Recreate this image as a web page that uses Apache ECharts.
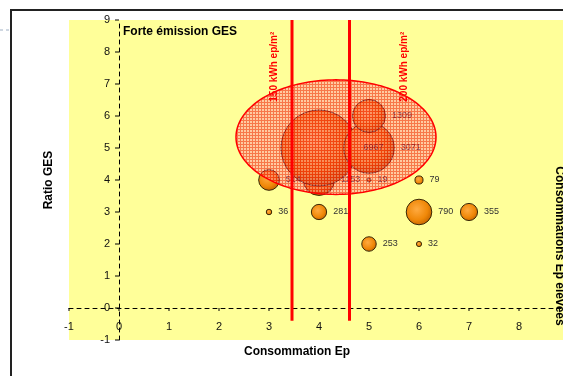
<!DOCTYPE html>
<html>
<head>
<meta charset="utf-8">
<script src="https://cdn.jsdelivr.net/npm/echarts@6/dist/echarts.min.js"></script>
<style>
  html, body { margin: 0; padding: 0; background: #ffffff; }
  #chart { width: 563px; height: 376px; }
</style>
</head>
<body>
<div id="chart"></div>
<script>
// Bubbles: consumption class (x), GES ratio (y), number of buildings (size + label)
const bubbleX = [4, 4, 5, 5, 3, 5, 6, 3, 4, 6, 7, 5, 6];
const bubbleY = [4, 5, 5, 6, 4, 4, 4, 3, 3, 3, 3, 2, 2];
const bubbleCount = [1153, 6967, 3071, 1309, 514, 19, 79, 36, 281, 790, 355, 253, 32];

// Vertical threshold lines and their captions
const thresholdX = [3.46, 4.61];
const thresholdFrom = -0.4;
const thresholdTo = 9;
const thresholdLabels = ['150 kWh ep/m²', '200 kWh ep/m²'];
const thresholdLabelX = [3.1, 5.7];
const thresholdLabelY = 7.54;

// Highlighted zone: centre x, centre y, half-width, half-height
const zoneCentre = [4.34, 5.34];
const zoneRadius = [2.0, 1.79];

// Axis ranges and tick labels (axes cross at zero)
const xRange = [-1, 9];
const yRange = [-1, 9];
const tickStep = 1;
const xTickLabels = [-1, 0, 1, 2, 3, 4, 5, 6, 7, 8, 9];
const yTickLabels = [-1, 0, 1, 2, 3, 4, 5, 6, 7, 8, 9];

const FONT = '"Liberation Sans", Arial, sans-serif';

// Small red cross-hatch used to fill the zone
function makeHatch() {
  const c = document.createElement('canvas');
  c.width = 3; c.height = 3;
  const g = c.getContext('2d');
  g.fillStyle = 'rgba(255,140,170,0.45)';
  g.fillRect(0, 0, 3, 3);
  g.clearRect(0, 0, 3, 1);
  g.clearRect(0, 1, 1, 2);
  g.fillStyle = 'rgba(240,10,10,0.55)';
  g.fillRect(0, 0, 3, 1);
  g.fillRect(0, 1, 1, 2);
  return c;
}
const hatch = makeHatch();

const bubbleData = bubbleX.map((x, i) => [x, bubbleY[i], bubbleCount[i]]);

// Tick marks + labels drawn along the zero-crossing axis lines
const tickData = []
  .concat(xTickLabels.map(v => [v, 0, 0]))
  .concat(yTickLabels.map(v => [0, v, 1]));

const chart = echarts.init(document.getElementById('chart'), null, { renderer: 'canvas' });

chart.setOption({
  animation: false,
  backgroundColor: '#ffffff',
  grid: {
    left: 69, top: 20, width: 500, height: 320,
    show: true, backgroundColor: '#ffff99', borderWidth: 0,
    containLabel: false, outerBoundsMode: 'none'
  },
  xAxis: {
    type: 'value', min: xRange[0], max: xRange[1], interval: tickStep,
    axisLine: { show: true, onZero: true, lineStyle: { color: '#000', width: 1, type: [4, 4] } },
    axisTick: { show: false },
    axisLabel: { show: false },
    splitLine: { show: false }
  },
  yAxis: {
    type: 'value', min: yRange[0], max: yRange[1], interval: tickStep,
    axisLine: { show: true, onZero: true, lineStyle: { color: '#000', width: 1, type: [4, 4] } },
    axisTick: { show: false },
    axisLabel: { show: false },
    splitLine: { show: false }
  },
  graphic: [
    { type: 'rect', z: 10, silent: true,
      shape: { x: 11, y: 10, width: 620, height: 420 },
      style: { fill: null, stroke: '#222', lineWidth: 2 } },
    { type: 'line', z: 10, silent: true,
      shape: { x1: 0, y1: 30, x2: 10, y2: 30 },
      style: { stroke: '#9fb0c4', lineWidth: 1, lineDash: [3, 3] } },
    { type: 'text', z: 10, silent: true, x: 123, y: 32,
      style: { text: 'Forte émission GES', font: 'bold 12px ' + FONT, fill: '#000',
               align: 'left', verticalAlign: 'middle' } },
    { type: 'text', z: 10, silent: true, x: 49, y: 180, rotation: Math.PI / 2,
      style: { text: 'Ratio GES', font: 'bold 12px ' + FONT, fill: '#000',
               align: 'center', verticalAlign: 'middle' } },
    { type: 'text', z: 10, silent: true, x: 297, y: 352,
      style: { text: 'Consommation Ep', font: 'bold 12px ' + FONT, fill: '#000',
               align: 'center', verticalAlign: 'middle' } },
    { type: 'text', z: 10, silent: true, x: 559, y: 246, rotation: -Math.PI / 2,
      style: { text: 'Consommations Ep élevées', font: 'bold 12px ' + FONT, fill: '#000',
               align: 'center', verticalAlign: 'middle' } }
  ],
  series: [
    {
      // axis ticks and tick labels
      type: 'custom', z: 1, silent: true,
      data: tickData,
      renderItem: (params, api) => {
        const p = api.coord([api.value(0), api.value(1)]);
        const vertical = api.value(2) === 1;
        const val = vertical ? api.value(1) : api.value(0);
        if (vertical) {
          return { type: 'group', children: [
            { type: 'line', shape: { x1: p[0] - 4, y1: p[1], x2: p[0], y2: p[1] },
              style: { stroke: '#000', lineWidth: 1 } },
            { type: 'text', x: p[0] - 9, y: p[1],
              style: { text: String(val), font: '11px ' + FONT, fill: '#111',
                       align: 'right', verticalAlign: 'middle' } }
          ] };
        }
        return { type: 'group', children: [
          { type: 'line', shape: { x1: p[0], y1: p[1], x2: p[0], y2: p[1] + 3 },
            style: { stroke: '#000', lineWidth: 1 } },
          { type: 'text', x: p[0], y: p[1] + 19,
            style: { text: String(val), font: '11px ' + FONT, fill: '#111',
                     align: 'center', verticalAlign: 'middle' } }
        ] };
      }
    },
    {
      type: 'scatter', z: 2, silent: true,
      data: bubbleData,
      symbol: 'circle',
      symbolSize: v => 0.91 * Math.sqrt(v[2]),
      itemStyle: {
        color: {
          type: 'radial', x: 0.42, y: 0.4, r: 0.62,
          colorStops: [
            { offset: 0, color: '#ffaa40' },
            { offset: 0.65, color: '#f08808' },
            { offset: 1, color: '#c46400' }
          ]
        },
        borderColor: '#3a2808', borderWidth: 1, opacity: 1
      },
      label: {
        show: true, position: 'right', distance: 6,
        formatter: p => String(p.value[2]),
        color: '#333', fontFamily: FONT, fontSize: 9
      },
      labelLayout: { hideOverlap: false }
    },
    {
      type: 'custom', z: 3, silent: true,
      data: [[zoneCentre[0], zoneCentre[1], zoneRadius[0], zoneRadius[1]]],
      renderItem: (params, api) => {
        const cx = api.value(0), cy = api.value(1), rx = api.value(2), ry = api.value(3);
        const pts = [];
        for (let i = 0; i < 160; i++) {
          const t = i / 160 * Math.PI * 2;
          pts.push(api.coord([cx + rx * Math.cos(t), cy + ry * Math.sin(t)]));
        }
        return {
          type: 'polygon', shape: { points: pts },
          style: { fill: { image: hatch, repeat: 'repeat' }, stroke: '#ff0000', lineWidth: 1.5 }
        };
      }
    },
    {
      type: 'custom', z: 4, silent: true,
      data: thresholdX.map(x => [x, thresholdFrom, thresholdTo]),
      renderItem: (params, api) => {
        const a = api.coord([api.value(0), api.value(1)]);
        const b = api.coord([api.value(0), api.value(2)]);
        return {
          type: 'line', shape: { x1: a[0], y1: a[1], x2: b[0], y2: b[1] },
          style: { stroke: '#ff0000', lineWidth: 3 }
        };
      }
    },
    {
      type: 'custom', z: 5, silent: true,
      data: thresholdLabelX.map((x, i) => [x, thresholdLabelY, i]),
      renderItem: (params, api) => {
        const p = api.coord([api.value(0), api.value(1)]);
        return {
          type: 'text', x: p[0], y: p[1], rotation: Math.PI / 2,
          style: { text: thresholdLabels[api.value(2)], fill: '#ff0000',
                   font: 'bold 10px ' + FONT, align: 'center', verticalAlign: 'middle' }
        };
      }
    }
  ]
});
</script>
</body>
</html>
